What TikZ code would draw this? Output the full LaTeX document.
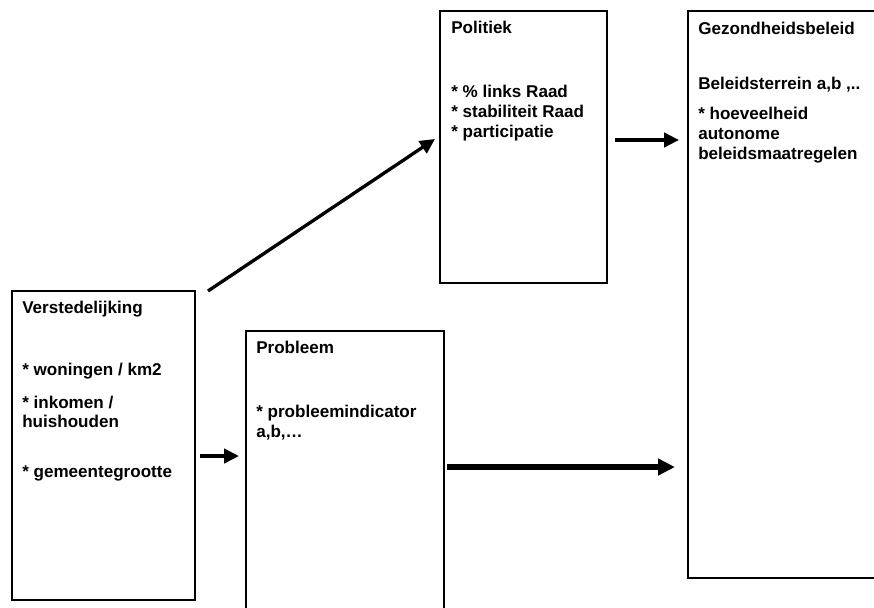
\documentclass[tikz,border=0pt]{standalone}
\usepackage{fontspec}
\setmainfont{Liberation Sans}
\usetikzlibrary{arrows.meta}

\begin{document}
\begin{tikzpicture}[x=0.75pt,y=-0.75pt,
  blok/.style={draw,line width=1.5pt,inner sep=0pt,anchor=north west},
  tekst/.style={anchor=base west,inner sep=0pt,align=left,
    font=\fontsize{12.8}{14.8}\selectfont\bfseries},
  pijl/.style={-{Triangle[length=11.25pt,width=10.75pt]},line width=2.5pt},
  dikkepijl/.style={-{Triangle[length=12.75pt,width=12pt]},line width=4.1pt}]
  \clip (0,0) rectangle (874,607);
  \fill[white] (0,0) rectangle (874,607);
  \node[blok,minimum width=137.25pt,minimum height=231.75pt] (verst) at (11,290) {};
  \node[blok,minimum width=148.5pt,minimum height=217.5pt] (probleem) at (245,330) {};
  \node[blok,minimum width=125.25pt,minimum height=204pt] (politiek) at (439,10) {};
  \node[blok,minimum width=165pt,minimum height=425.25pt] (gezond) at (687,10) {};
  \node[tekst] (verst-tekst) at ([shift={(11,187)}]verst.north west)
    {Verstedelijking\\[31.7pt] * woningen / km2\\[10pt] * inkomen /\\ huishouden\\[22pt] * gemeentegrootte};
  \node[tekst] (probleem-tekst) at ([shift={(11,107)}]probleem.north west)
    {Probleem\\[33.2pt] * probleemindicator\\ a,b,…};
  \node[tekst] (politiek-tekst) at ([shift={(12,127)}]politiek.north west)
    {Politiek\\[33.2pt] * \% links Raad\\ * stabiliteit Raad\\ * participatie};
  \node[tekst] (gezond-tekst) at ([shift={(11,149)}]gezond.north west)
    {Gezondheidsbeleid\\[26.5pt] Beleidsterrein a,b ,..\\[7.7pt] * hoeveelheid\\ autonome\\ beleidsmaatregelen};
  \draw[pijl] ([shift={(12,1)}]verst.north east) -- ([shift={(-4,-8)}]politiek.west);
  \draw[pijl,shorten <=3pt,shorten >=4.5pt] ([yshift=-7.9pt]verst.east) -- ([yshift=-7.9pt]verst.east -| probleem.west);
  \draw[pijl,shorten <=5.25pt,shorten >=6pt] ([yshift=5.25pt]politiek.east) -- ([yshift=5.25pt]politiek.east -| gezond.west);
  \draw[dikkepijl,shorten <=1.5pt,shorten >=9pt] ([yshift=6.75pt]probleem.east) -- ([yshift=6.75pt]probleem.east -| gezond.west);
\end{tikzpicture}
\end{document}
